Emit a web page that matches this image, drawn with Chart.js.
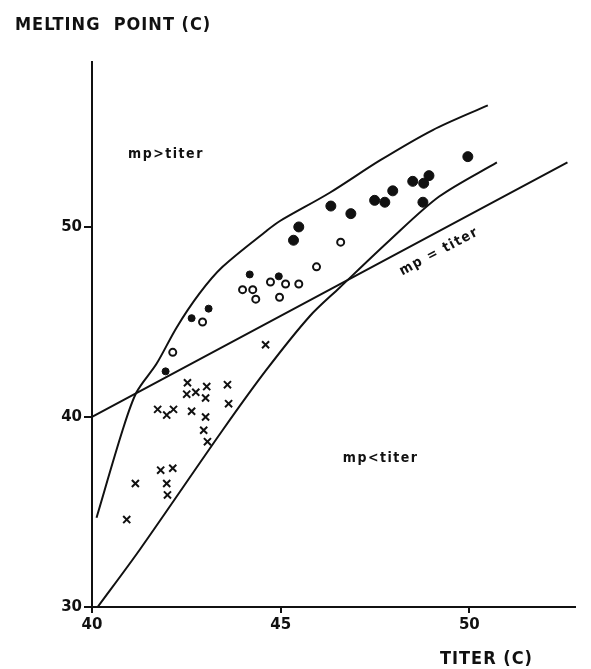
<!DOCTYPE html>
<html>
<head>
<meta charset="utf-8">
<script src="https://cdn.jsdelivr.net/npm/chart.js@4"></script>
<style>
  html, body { margin: 0; background: #fff; }
  #wrap { width: 591px; height: 669px; }
</style>
</head>
<body>
<div id="wrap"><canvas id="c"></canvas></div>
<script>
// values: [titer, melting point]
const filledPoints = [
  [41.95, 42.4], [42.64, 45.2], [43.09, 45.7], [44.18, 47.5], [44.95, 47.4],
  [45.34, 49.3], [45.48, 50.0], [46.33, 51.1], [46.86, 50.7], [47.49, 51.4],
  [47.76, 51.3], [47.97, 51.9], [48.5, 52.4], [48.79, 52.3], [48.93, 52.7],
  [48.77, 51.3], [49.96, 53.7]
];
const openPoints = [
  [42.14, 43.4], [42.93, 45.0], [43.99, 46.7], [44.26, 46.7], [44.34, 46.2],
  [44.73, 47.1], [45.13, 47.0], [44.97, 46.3], [45.48, 47.0], [45.95, 47.9],
  [46.59, 49.2]
];
const crossPoints = [
  [44.6, 43.8], [42.53, 41.8], [42.51, 41.2], [42.75, 41.3], [43.04, 41.6],
  [43.01, 41.0], [43.59, 41.7], [43.62, 40.7], [41.74, 40.4], [41.98, 40.1],
  [42.16, 40.4], [42.64, 40.3], [43.01, 40.0], [42.96, 39.3], [43.06, 38.7],
  [41.82, 37.2], [42.14, 37.3], [41.98, 36.5], [42.0, 35.9], [41.15, 36.5],
  [40.92, 34.6]
];
const upperCurve = [
  [40.12, 34.7], [40.81, 39.3], [41.18, 41.3], [41.71, 42.8], [42.24, 44.7],
  [42.85, 46.5], [43.46, 47.9], [44.63, 49.8], [44.97, 50.3], [46.3, 51.8],
  [47.63, 53.5], [49.03, 55.1], [50.49, 56.4]
];
const lowerCurve = [
  [40.15, 30.0], [41.26, 33.0], [43.46, 39.3], [44.63, 42.5], [45.77, 45.3],
  [46.56, 46.8], [47.89, 49.3], [49.2, 51.6], [50.73, 53.4]
];
const equalLine = [[40, 40], [52.6, 53.4]];
const xTicks = [40, 45, 50];
const yTicks = [30, 40, 50];

const notes = [
  { text: 'mp>titer', x: 41.96, y: 53.8, angle: 0 },
  { text: 'mp = titer', x: 49.2, y: 48.7, angle: -28 },
  { text: 'mp<titer', x: 47.65, y: 37.8, angle: 0 }
];

const ink = '#111';
const toXY = arr => arr.map(p => ({ x: p[0], y: p[1] }));

const lineSet = pts => ({
  type: 'line',
  data: toXY(pts),
  borderColor: ink,
  borderWidth: 2,
  pointRadius: 0,
  tension: 0.3,
  fill: false
});

const textPlugin = {
  id: 'texts',
  afterDraw(chart) {
    const ctx = chart.ctx;
    const xs = chart.scales.x, ys = chart.scales.y;
    ctx.save();
    ctx.fillStyle = ink;
    ctx.textBaseline = 'middle';

    // axis titles
    ctx.font = 'bold 18px "DejaVu Sans Condensed", "DejaVu Sans", sans-serif';
    ctx.letterSpacing = '1px';
    ctx.textAlign = 'left';
    ctx.fillText('MELTING  POINT (C)', 15, 25);
    ctx.fillText('TITER (C)', 440, 659);

    // region labels
    ctx.font = 'bold 14px "DejaVu Sans Condensed", "DejaVu Sans", sans-serif';
    ctx.letterSpacing = '1.5px';
    ctx.textAlign = 'center';
    notes.forEach(n => {
      ctx.save();
      ctx.translate(xs.getPixelForValue(n.x), ys.getPixelForValue(n.y));
      ctx.rotate(n.angle * Math.PI / 180);
      ctx.fillText(n.text, 0, 0);
      ctx.restore();
    });
    ctx.restore();
  }
};

const tickFont = { family: '"DejaVu Sans", sans-serif', size: 15, weight: 'bold' };

new Chart(document.getElementById('c'), {
  type: 'scatter',
  data: {
    datasets: [
      lineSet(upperCurve),
      lineSet(lowerCurve),
      lineSet(equalLine),
      {
        data: toXY(filledPoints),
        pointStyle: 'circle',
        pointRadius: c => (c.raw && c.raw.y > 48.5 ? 5 : 3.5),
        backgroundColor: ink,
        borderColor: ink,
        borderWidth: 1
      },
      {
        data: toXY(openPoints),
        pointStyle: 'circle',
        pointRadius: 3.5,
        backgroundColor: '#fff',
        borderColor: ink,
        borderWidth: 2
      },
      {
        data: toXY(crossPoints),
        pointStyle: 'crossRot',
        pointRadius: 5,
        borderColor: ink,
        borderWidth: 2
      }
    ]
  },
  options: {
    responsive: true,
    maintainAspectRatio: false,
    animation: false,
    layout: { padding: { top: 62, right: 16, left: 0, bottom: 0 } },
    plugins: { legend: { display: false }, tooltip: { enabled: false } },
    scales: {
      x: {
        type: 'linear',
        min: 40,
        max: 52.8,
        afterBuildTicks: s => { s.ticks = xTicks.map(v => ({ value: v })); },
        afterFit: s => { s.height = 62; },
        grid: { drawOnChartArea: false, tickLength: 6, color: ink, lineWidth: 2 },
        border: { color: ink, width: 2 },
        ticks: { font: tickFont, color: ink, padding: 3, maxRotation: 0 }
      },
      y: {
        type: 'linear',
        min: 30,
        max: 58.68,
        afterBuildTicks: s => { s.ticks = yTicks.map(v => ({ value: v })); },
        afterFit: s => { s.width = 92; },
        grid: { drawOnChartArea: false, tickLength: 8, color: ink, lineWidth: 2 },
        border: { color: ink, width: 2 },
        ticks: { font: tickFont, color: ink, padding: 2 }
      }
    }
  },
  plugins: [textPlugin]
});
</script>
</body>
</html>
